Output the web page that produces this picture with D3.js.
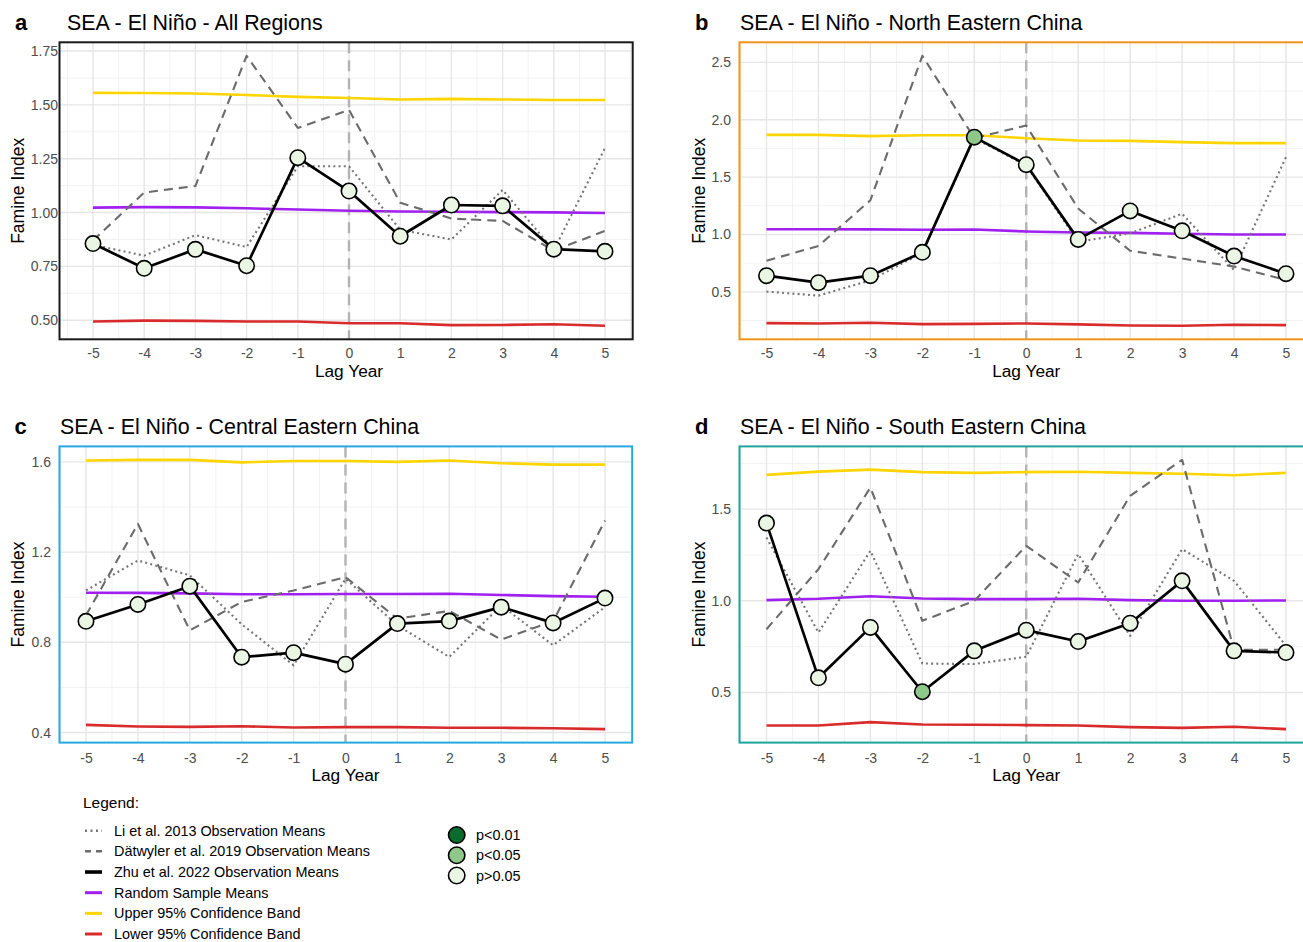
<!DOCTYPE html>
<html><head><meta charset="utf-8">
<script src="https://cdn.jsdelivr.net/npm/d3@7"></script>
<style>body{margin:0;background:#fff}</style>
</head><body><svg id="chart" width="1303" height="942"></svg>
<script>
// ---------- DATA ----------
const lagYears = [-5, -4, -3, -2, -1, 0, 1, 2, 3, 4, 5];

// a: All Regions
const allLi     = [0.850, 0.800, 0.895, 0.840, 1.215, 1.215, 0.920, 0.875, 1.105, 0.825, 1.300];
const allDat    = [0.870, 1.093, 1.123, 1.728, 1.393, 1.477, 1.046, 0.972, 0.961, 0.823, 0.915];
const allZhu    = [0.856, 0.741, 0.829, 0.753, 1.255, 1.100, 0.890, 1.035, 1.031, 0.830, 0.820];
const allRandom = [1.023, 1.025, 1.024, 1.020, 1.014, 1.008, 1.005, 1.004, 1.002, 1.001, 0.998];
const allUpper  = [1.556, 1.555, 1.553, 1.546, 1.537, 1.532, 1.525, 1.528, 1.525, 1.523, 1.523];
const allLower  = [0.494, 0.498, 0.497, 0.494, 0.494, 0.486, 0.486, 0.477, 0.478, 0.481, 0.474];
const allSig    = ["p>0.05","p>0.05","p>0.05","p>0.05","p>0.05","p>0.05","p>0.05","p>0.05","p>0.05","p>0.05","p>0.05"];

// b: North Eastern China
const neLi     = [0.502, 0.467, 0.600, 0.840, 1.840, 1.600, 0.936, 1.010, 1.180, 0.690, 1.674];
const neDat    = [0.771, 0.900, 1.298, 2.557, 1.840, 1.949, 1.226, 0.858, 0.790, 0.720, 0.603];
const neZhu    = [0.641, 0.580, 0.641, 0.844, 1.848, 1.608, 0.957, 1.205, 1.032, 0.812, 0.658];
const neRandom = [1.046, 1.046, 1.044, 1.041, 1.043, 1.026, 1.017, 1.014, 1.006, 1.000, 1.000];
const neUpper  = [1.868, 1.868, 1.857, 1.865, 1.865, 1.839, 1.819, 1.816, 1.805, 1.796, 1.796];
const neLower  = [0.227, 0.224, 0.230, 0.219, 0.221, 0.224, 0.216, 0.207, 0.204, 0.213, 0.210];
const neSig    = ["p>0.05","p>0.05","p>0.05","p>0.05","p<0.05","p>0.05","p>0.05","p>0.05","p>0.05","p>0.05","p>0.05"];

// c: Central Eastern China
const ceLi     = [1.030, 1.163, 1.097, 0.880, 0.698, 1.082, 0.875, 0.735, 0.964, 0.787, 0.956];
const ceDat    = [0.920, 1.325, 0.853, 0.979, 1.030, 1.089, 0.905, 0.939, 0.812, 0.893, 1.340];
const ceZhu    = [0.893, 0.968, 1.049, 0.734, 0.754, 0.703, 0.883, 0.894, 0.956, 0.886, 0.996];
const ceRandom = [1.020, 1.019, 1.017, 1.013, 1.013, 1.014, 1.014, 1.015, 1.010, 1.005, 1.002];
const ceUpper  = [1.606, 1.609, 1.609, 1.598, 1.604, 1.604, 1.600, 1.606, 1.594, 1.588, 1.588];
const ceLower  = [0.434, 0.427, 0.425, 0.428, 0.422, 0.424, 0.424, 0.421, 0.421, 0.419, 0.415];
const ceSig    = ["p>0.05","p>0.05","p>0.05","p>0.05","p>0.05","p>0.05","p>0.05","p>0.05","p>0.05","p>0.05","p>0.05"];

// d: South Eastern China
const seLi     = [1.345, 0.827, 1.273, 0.658, 0.655, 0.695, 1.255, 0.809, 1.282, 1.109, 0.755];
const seDat    = [0.845, 1.173, 1.618, 0.891, 1.000, 1.300, 1.100, 1.573, 1.769, 0.733, 0.733];
const seZhu    = [1.424, 0.580, 0.855, 0.504, 0.727, 0.840, 0.778, 0.878, 1.109, 0.727, 0.718];
const seRandom = [1.004, 1.011, 1.025, 1.013, 1.009, 1.009, 1.011, 1.004, 1.000, 1.000, 1.002];
const seUpper  = [1.687, 1.705, 1.716, 1.702, 1.698, 1.702, 1.704, 1.698, 1.693, 1.685, 1.698];
const seLower  = [0.320, 0.320, 0.338, 0.325, 0.324, 0.322, 0.320, 0.311, 0.307, 0.313, 0.300];
const seSig    = ["p>0.05","p>0.05","p>0.05","p<0.05","p>0.05","p>0.05","p>0.05","p>0.05","p>0.05","p>0.05","p>0.05"];

const panelLetters = ["a", "b", "c", "d"];
const panelTitles = [
  "SEA - El Niño - All Regions",
  "SEA - El Niño - North Eastern China",
  "SEA - El Niño - Central Eastern China",
  "SEA - El Niño - South Eastern China"
];
const yTicksA = [0.50, 0.75, 1.00, 1.25, 1.50, 1.75];
const yTicksB = [0.5, 1.0, 1.5, 2.0, 2.5];
const yTicksC = [0.4, 0.8, 1.2, 1.6];
const yTicksD = [0.5, 1.0, 1.5];
const xAxisTitle = "Lag Year";
const yAxisTitle = "Famine Index";

const legendTitle = "Legend:";
const legendLineLabels = [
  "Li et al. 2013 Observation Means",
  "Dätwyler et al. 2019 Observation Means",
  "Zhu et al. 2022 Observation Means",
  "Random Sample Means",
  "Upper 95% Confidence Band",
  "Lower 95% Confidence Band"
];
const legendSigLabels = ["p<0.01", "p<0.05", "p>0.05"];

// ---------- STYLE / LAYOUT ----------
const FONT = "'Liberation Sans', Arial, Helvetica, sans-serif";
const seriesStyle = {
  upper:  {stroke: "#ffd500", width: 2.6, dash: null},
  lower:  {stroke: "#d92b2b", width: 2.6, dash: null},
  random: {stroke: "#a020f0", width: 2.6, dash: null},
  li:     {stroke: "#767676", width: 2.1, dash: "2,3.2"},
  dat:    {stroke: "#6b6b6b", width: 2.1, dash: "9,6"},
  zhu:    {stroke: "#000000", width: 2.7, dash: null}
};
const sigFill = {"p<0.01": "#0b6b2e", "p<0.05": "#8fc68a", "p>0.05": "#eaf5e3"};

const panelLayout = [
  {box: [59.5, 42.3, 632.7, 339.3], xr: [93, 605],     yLabRight: 58,  yTitleX: 17.6,  letterX: 15,  titleX: 67,  titleY: 30,  xTitleY: 377,   border: "#1a1a1a", fmt: ".2f", ticks: yTicksA},
  {box: [739.5, 42.3, 1320, 339.3], xr: [766.5, 1286], yLabRight: 731, yTitleX: 698.6, letterX: 695, titleX: 740, titleY: 30,  xTitleY: 377,   border: "#f0951a", fmt: ".1f", ticks: yTicksB},
  {box: [59.5, 446.4, 632.2, 742.6], xr: [86, 605],    yLabRight: 51,  yTitleX: 17.6,  letterX: 14.5,titleX: 60,  titleY: 433.5, xTitleY: 780.5, border: "#29a8e0", fmt: ".1f", ticks: yTicksC},
  {box: [739.5, 446.4, 1320, 742.6], xr: [766.5, 1286],yLabRight: 731, yTitleX: 698.6, letterX: 695, titleX: 740, titleY: 433.5, xTitleY: 780.5, border: "#1ea39c", fmt: ".1f", ticks: yTicksD}
];

const panelData = [
  {li: allLi, dat: allDat, zhu: allZhu, random: allRandom, upper: allUpper, lower: allLower, sig: allSig},
  {li: neLi,  dat: neDat,  zhu: neZhu,  random: neRandom,  upper: neUpper,  lower: neLower,  sig: neSig},
  {li: ceLi,  dat: ceDat,  zhu: ceZhu,  random: ceRandom,  upper: ceUpper,  lower: ceLower,  sig: ceSig},
  {li: seLi,  dat: seDat,  zhu: seZhu,  random: seRandom,  upper: seUpper,  lower: seLower,  sig: seSig}
];

// ---------- DRAW ----------
const svg = d3.select("#chart").style("font-family", FONT);
svg.append("rect").attr("width", 1303).attr("height", 942).attr("fill", "#fff");

panelData.forEach((pd, i) => {
  const L = panelLayout[i];
  const [bx0, by0, bx1, by1] = L.box;
  const all = [].concat(pd.li, pd.dat, pd.zhu, pd.random, pd.upper, pd.lower);
  const [mn, mx] = d3.extent(all);
  const pad = (mx - mn) * 0.05;
  const y = d3.scaleLinear().domain([mn - pad, mx + pad]).range([by1, by0]);
  const x = d3.scaleLinear().domain([lagYears[0], lagYears[lagYears.length - 1]]).range(L.xr);

  const g = svg.append("g");
  const clipId = "clip" + i;
  svg.append("clipPath").attr("id", clipId).append("rect")
    .attr("x", bx0).attr("y", by0).attr("width", bx1 - bx0).attr("height", by1 - by0);
  const pg = g.append("g").attr("clip-path", `url(#${clipId})`);

  const xMin = x.invert(bx0), xMax = x.invert(bx1);
  const xMinor = d3.range(Math.ceil(xMin - 0.5) + 0.5, xMax, 1);
  const xMajor = d3.range(Math.ceil(xMin), xMax + 1e-9, 1);
  const step = L.ticks[1] - L.ticks[0];
  const yMinor = d3.range(L.ticks[0] - step / 2, L.ticks[L.ticks.length - 1] + step, step)
    .filter(v => v > y.domain()[0] && v < y.domain()[1]);
  pg.selectAll(".vminor").data(xMinor).join("line")
    .attr("x1", d => x(d)).attr("x2", d => x(d)).attr("y1", by0).attr("y2", by1)
    .attr("stroke", "#f0f0f0").attr("stroke-width", 0.9);
  pg.selectAll(".hminor").data(yMinor).join("line")
    .attr("y1", d => y(d)).attr("y2", d => y(d)).attr("x1", bx0).attr("x2", bx1)
    .attr("stroke", "#f0f0f0").attr("stroke-width", 0.9);
  pg.selectAll(".vmajor").data(xMajor).join("line")
    .attr("x1", d => x(d)).attr("x2", d => x(d)).attr("y1", by0).attr("y2", by1)
    .attr("stroke", "#e6e6e6").attr("stroke-width", 1.4);
  pg.selectAll(".hmajor").data(L.ticks).join("line")
    .attr("y1", d => y(d)).attr("y2", d => y(d)).attr("x1", bx0).attr("x2", bx1)
    .attr("stroke", "#e6e6e6").attr("stroke-width", 1.4);

  pg.append("line").attr("x1", x(0)).attr("x2", x(0)).attr("y1", by0).attr("y2", by1)
    .attr("stroke", "#b3b3b3").attr("stroke-width", 2.4).attr("stroke-dasharray", "11,7");

  const lineGen = d3.line().x((d, j) => x(lagYears[j])).y(d => y(d));
  ["upper", "lower", "random", "li", "dat", "zhu"].forEach(key => {
    const s = seriesStyle[key];
    pg.append("path").datum(pd[key]).attr("d", lineGen)
      .attr("fill", "none").attr("stroke", s.stroke).attr("stroke-width", s.width)
      .attr("stroke-dasharray", s.dash).attr("stroke-linejoin", "round");
  });

  pg.selectAll(".pt").data(pd.zhu).join("circle")
    .attr("cx", (d, j) => x(lagYears[j])).attr("cy", d => y(d)).attr("r", 7.7)
    .attr("fill", (d, j) => sigFill[pd.sig[j]]).attr("stroke", "#000").attr("stroke-width", 1.6);

  g.append("rect").attr("x", bx0).attr("y", by0).attr("width", bx1 - bx0).attr("height", by1 - by0)
    .attr("fill", "none").attr("stroke", L.border).attr("stroke-width", 2);

  const ya = g.append("g").attr("transform", `translate(${L.yLabRight},0)`)
    .call(d3.axisLeft(y).tickValues(L.ticks).tickSize(0).tickPadding(0).tickFormat(d3.format(L.fmt)));
  ya.select(".domain").remove();
  ya.selectAll("text").attr("fill", "#4d4d4d").style("font-size", "14px").style("font-family", FONT);

  const xa = g.append("g").attr("transform", `translate(0,${by1})`)
    .call(d3.axisBottom(x).tickValues(lagYears).tickSize(0).tickPadding(i < 2 ? 9 : 10).tickFormat(d => String(d)));
  xa.select(".domain").remove();
  xa.selectAll("text").attr("fill", "#4d4d4d").style("font-size", "14px").style("font-family", FONT);

  g.append("text").attr("x", x(0)).attr("y", L.xTitleY).attr("text-anchor", "middle")
    .style("font-size", "17.3px").attr("fill", "#000").text(xAxisTitle);
  g.append("text").attr("transform", `translate(${L.yTitleX},${(by0 + by1) / 2}) rotate(-90)`)
    .attr("dy", "0.35em").attr("text-anchor", "middle")
    .style("font-size", "17.5px").attr("fill", "#000").text(yAxisTitle);

  g.append("text").attr("x", L.letterX).attr("y", L.titleY)
    .style("font-size", "22px").style("font-weight", "bold").text(panelLetters[i]);
  g.append("text").attr("x", L.titleX).attr("y", L.titleY)
    .style("font-size", "21.4px").text(panelTitles[i]);
});

// ---------- LEGEND ----------
const lg = svg.append("g");
lg.append("text").attr("x", 83).attr("y", 803).attr("dy", "0.35em")
  .style("font-size", "15.5px").text(legendTitle);
const legendKeys = ["li", "dat", "zhu", "random", "upper", "lower"];
const legendRowY = d3.scaleLinear().domain([0, legendLineLabels.length - 1]).range([830.7, 934]);
legendLineLabels.forEach((lab, j) => {
  const s = seriesStyle[legendKeys[j]];
  const yy = legendRowY(j);
  lg.append("line").attr("x1", 85).attr("x2", 102).attr("y1", yy).attr("y2", yy)
    .attr("stroke", s.stroke).attr("stroke-width", legendKeys[j] === "zhu" ? 3.6 : s.width + 0.4)
    .attr("stroke-dasharray", legendKeys[j] === "li" ? "2,3.5" : (legendKeys[j] === "dat" ? "6,5" : null));
  lg.append("text").attr("x", 114).attr("y", yy).attr("dy", "0.35em")
    .style("font-size", "14.4px").text(lab);
});
const sigRowY = d3.scaleLinear().domain([0, legendSigLabels.length - 1]).range([835, 875.5]);
legendSigLabels.forEach((lab, j) => {
  const yy = sigRowY(j);
  lg.append("circle").attr("cx", 456.7).attr("cy", yy).attr("r", 8.2)
    .attr("fill", sigFill[lab]).attr("stroke", "#000").attr("stroke-width", 1.6);
  lg.append("text").attr("x", 476).attr("y", yy).attr("dy", "0.35em")
    .style("font-size", "14.4px").text(lab);
});
</script></body></html>
